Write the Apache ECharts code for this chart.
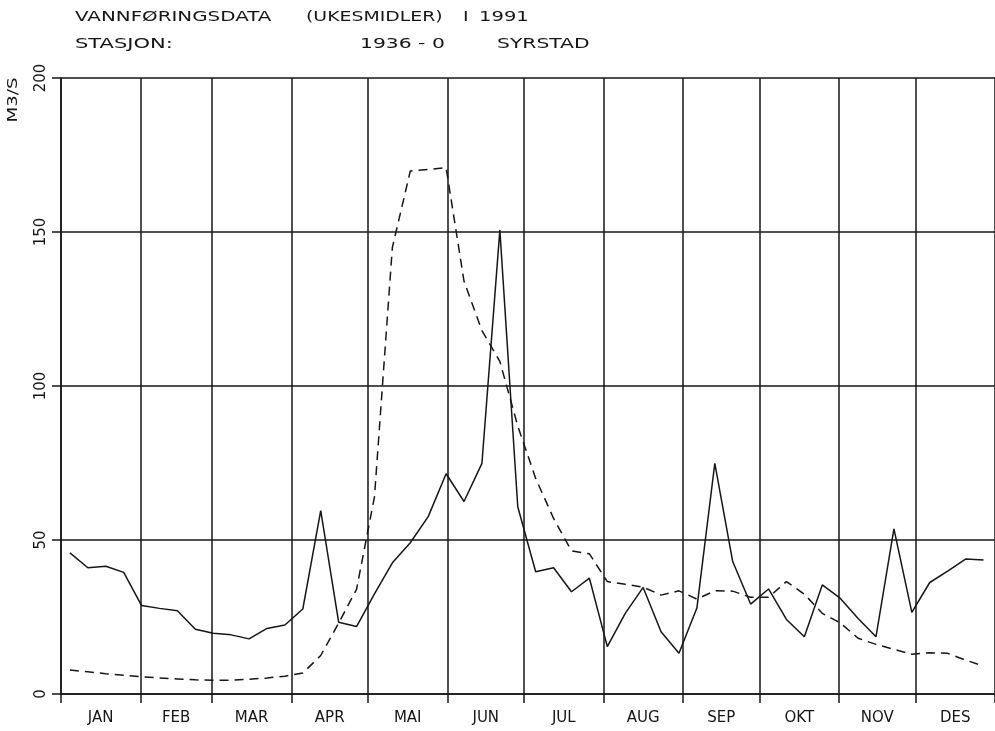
<!DOCTYPE html>
<html><head><meta charset="utf-8">
<script src="https://cdn.jsdelivr.net/npm/echarts@6/dist/echarts.min.js"></script>
<style>html,body{margin:0;padding:0;background:#fff}#c{width:995px;height:731px}</style>
</head><body><div id="c"></div>
<script>
// Month names and month start days (day-of-year)
const monthNames = ['JAN','FEB','MAR','APR','MAI','JUN','JUL','AUG','SEP','OKT','NOV','DES'];
const monthStartDays = [0,31,59,90,120,151,181,212,243,273,304,334,365];
const yTicks = [0,50,100,150,200];
// Week numbers 1..52
const weeks = [1,2,3,4,5,6,7,8,9,10,11,12,13,14,15,16,17,18,19,20,21,22,23,24,25,26,
  27,28,29,30,31,32,33,34,35,36,37,38,39,40,41,42,43,44,45,46,47,48,49,50,51,52];
// Weekly mean discharge 1991 (solid)
const flow1991 = [45.8,41.0,41.5,39.5,28.7,27.8,27.0,21.0,19.7,19.2,17.9,21.3,22.4,27.6,59.5,23.3,
  21.9,32.5,42.6,49.1,57.6,71.5,62.5,74.9,150.6,60.8,39.7,41.0,33.2,37.6,15.4,26.2,34.6,20.2,13.2,
  27.9,74.9,43.0,29.2,34.1,24.2,18.6,35.4,31.1,24.5,18.6,53.6,26.5,36.2,39.9,43.8,43.5];
// Reference weekly values (dashed)
const flowRef = [7.8,7.2,6.6,6.1,5.6,5.2,4.9,4.6,4.5,4.5,4.8,5.2,5.8,6.8,12.5,23.0,34.0,64.0,145.0,
  169.8,170.3,170.9,134.0,118.0,108.0,87.0,70.0,57.0,46.5,45.5,36.5,35.6,34.7,32.1,33.5,30.8,33.5,
  33.4,31.4,31.4,36.5,32.4,26.2,23.1,18.1,16.1,14.5,12.9,13.4,13.2,11.0,9.1];

const weekDay = w => (w - 0.5) * 7;
const monthMid = monthNames.map((m, i) => (monthStartDays[i] + monthStartDays[i + 1]) / 2);
const ink = '#161616';
const font = 'DejaVu Sans';

const chart = echarts.init(document.getElementById('c'));
const txt = (t, x, y, sx) => ({
  type: 'text', x: x, y: y, scaleX: sx,
  style: { text: t, fontFamily: font, fontSize: 14.5, fill: ink, align: 'left', verticalAlign: 'middle' }
});
chart.setOption({
  animation: false,
  backgroundColor: '#fff',
  grid: { left: 61, right: -9, top: 78, bottom: 37 },
  xAxis: {
    type: 'value', min: 0, max: 365,
    axisLine: { show: true, lineStyle: { color: ink, width: 1.5 } },
    axisTick: { show: true, inside: false, length: 9, customValues: monthStartDays, lineStyle: { color: ink, width: 1.5 } },
    axisLabel: {
      customValues: monthMid, margin: 17, fontSize: 15, fontFamily: font, color: ink,
      formatter: v => monthNames[monthMid.indexOf(v)] || ''
    },
    splitLine: { show: true, lineStyle: { color: ink, width: 1.5 } }
  },
  yAxis: {
    type: 'value', min: yTicks[0], max: yTicks[yTicks.length - 1], interval: 50,
    axisLine: { show: true, lineStyle: { color: ink, width: 1.5 } },
    axisTick: { show: true, inside: false, length: 9, lineStyle: { color: ink, width: 1.5 } },
    axisLabel: { rotate: 90, margin: 12, fontSize: 15, fontFamily: font, color: ink },
    splitLine: { show: true, lineStyle: { color: ink, width: 1.5 } }
  },
  graphic: [
    txt('VANNFØRINGSDATA', 75, 17, 1.37),
    txt('(UKESMIDLER)', 306, 17, 1.3),
    txt('I', 463, 17, 1.3),
    txt('1991', 479, 17, 1.35),
    txt('STASJON:', 75, 44, 1.45),
    txt('1936 - 0', 360, 44, 1.4),
    txt('SYRSTAD', 497, 44, 1.4),
    { type: 'text', x: 13, y: 100, rotation: Math.PI / 2, scaleX: 1.3,
      style: { text: 'M3/S', fontFamily: font, fontSize: 14, fill: ink, align: 'center', verticalAlign: 'middle' } }
  ],
  series: [
    { name: '1991', type: 'line', showSymbol: false, symbol: 'none',
      data: weeks.map((w, i) => [weekDay(w), flow1991[i]]),
      lineStyle: { color: ink, width: 1.5 } },
    { name: 'Referanse', type: 'line', showSymbol: false, symbol: 'none',
      data: weeks.map((w, i) => [weekDay(w), flowRef[i]]),
      lineStyle: { color: ink, width: 1.5, type: [9, 6] } }
  ]
});
</script></body></html>
